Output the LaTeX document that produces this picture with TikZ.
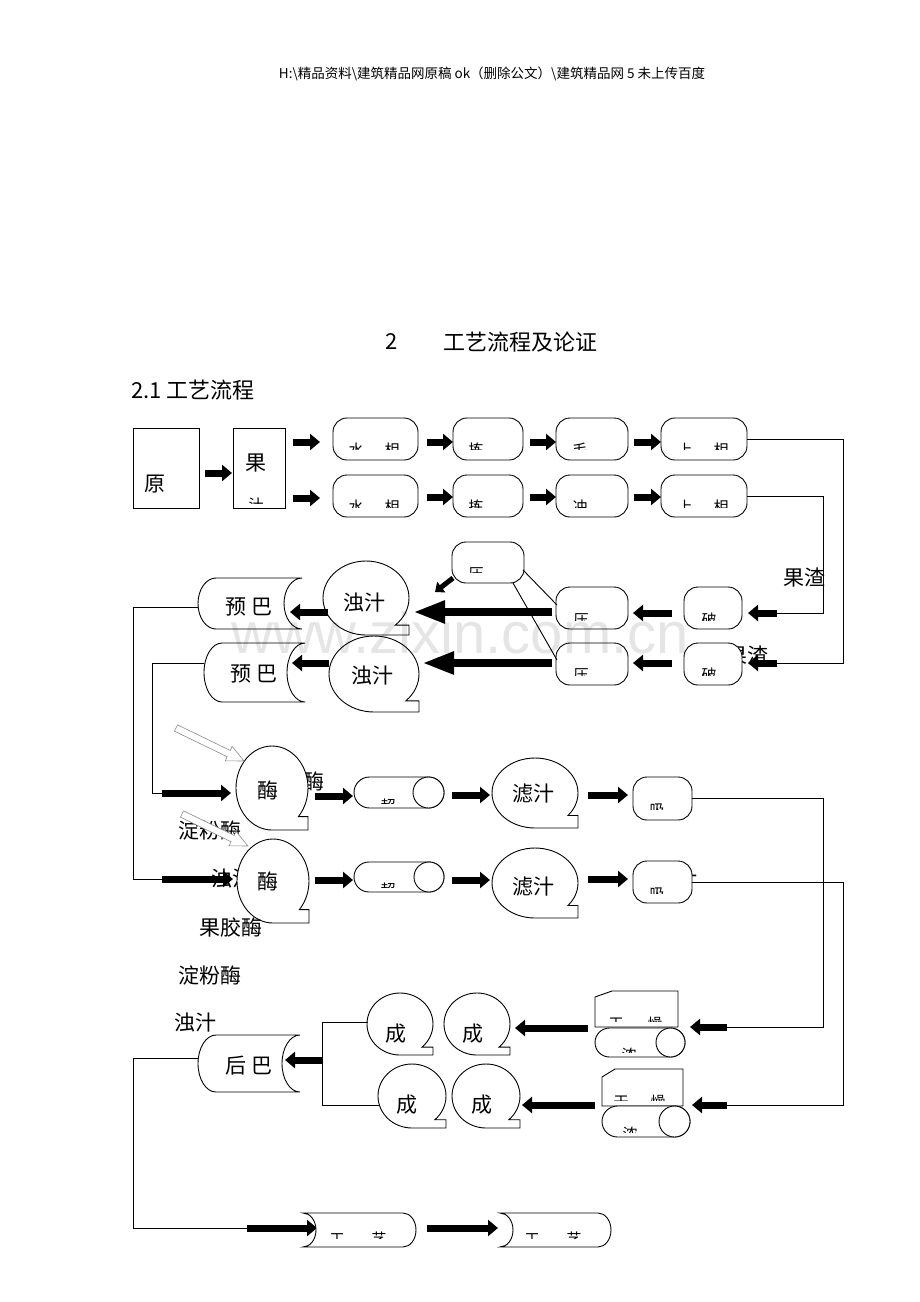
\documentclass[tikz,border=0pt]{standalone}
\usepackage{fontspec}
\newfontfamily\cjk{Noto Sans CJK SC}
\newfontfamily\wmf{Liberation Sans}
\usetikzlibrary{arrows.meta}
\newcommand{\frag}[5]{\begin{scope}\clip ({#2-16},{#3-22}) rectangle ({#2+16},#4);\node[frg] (#1) at (#2,#3) {#5};\end{scope}}
\newcommand{\bub}[6]{\draw[shp] (#2,{#3+#5}) arc[start angle=90,end angle={360+#6},x radius=#4,y radius=#5] -- ({#2+#4},{#3+#5*sin(#6)}) -- ({#2+#4},{#3+#5}) -- cycle; \coordinate (#1) at (#2,#3);}
\newcommand{\scrl}[6]{\draw[shp] (#2,#3) -- (#4,#3) arc[start angle=270,end angle=90,x radius=#6,y radius={(#5-#3)/2}] -- (#2,#5) arc[start angle=90,end angle=270,x radius=#6,y radius={(#5-#3)/2}] -- cycle; \coordinate (#1) at ({(#2+#4)/2},{(#3+#5)/2});}
\newcommand{\scrr}[6]{\draw[shp] (#2,#3) -- (#4,#3) arc[start angle=270,end angle=450,x radius=#6,y radius={(#5-#3)/2}] -- (#2,#5) arc[start angle=90,end angle=-90,x radius=#6,y radius={(#5-#3)/2}] -- cycle; \coordinate (#1) at ({(#2+#4)/2},{(#3+#5)/2});}
\newcommand{\cyl}[6]{\draw[shp,rounded corners=#6pt] (#2,#3) rectangle (#4,#5); \draw[shp] ({#4-#6},{(#3+#5)/2}) circle[radius=#6]; \coordinate (#1) at ({(#2+#4)/2},{(#3+#5)/2});}
\newcommand{\card}[7]{\draw[shp] (#2,#7) -- (#6,#3) -- (#4,#3) -- (#4,#5) -- (#2,#5) -- cycle; \coordinate (#1) at ({(#2+#4)/2},{(#3+#5)/2});}
\newcommand{\ar}[6]{\coordinate (#2s) at (#3,#4); \coordinate (#2e) at (#5,#6); \draw[#1] (#2s) -- (#2e);}
\begin{document}
\begin{tikzpicture}[x=1pt,y=-1pt,
  ln/.style={line width=0.9pt},
  shp/.style={line width=0.9pt,draw=black,fill=white},
  rb/.style={shp,rounded corners=14pt,inner sep=0pt},
  sq/.style={shp,inner sep=0pt},
  arr/.style={line width=7pt,-{Triangle[length=10pt,width=16pt]}},
  arrs/.style={line width=5pt,-{Triangle[length=8pt,width=13pt]}},
  bigarr/.style={line width=8pt,-{Triangle[length=32pt,width=21pt]}},
  hol/.style={draw=black!45,fill=white,line width=0.6pt},
  lab/.style={font=\cjk\fontsize{21pt}{21pt}\selectfont,inner sep=0pt},
  frg/.style={font=\cjk\fontsize{15pt}{15pt}\selectfont,inner sep=0pt},
]
\useasboundingbox (0,0) rectangle (920,1302);
\fill[white] (0,0) rectangle (920,1302);

% header and titles
\node[font=\cjk\fontsize{13.5pt}{14pt}\selectfont,inner sep=0pt] (hdr) at (492,74) {H:\textbackslash 精品资料\textbackslash 建筑精品网原稿 ok（删除公文）\textbackslash 建筑精品网 5 未上传百度};
\node[lab,font=\cjk\fontsize{22pt}{22pt}\selectfont] (tnum) at (392,342) {2};
\node[lab,font=\cjk\fontsize{22pt}{22pt}\selectfont] (title) at (520,342) {工艺流程及论证};
\node[lab,font=\cjk\fontsize{22pt}{22pt}\selectfont,anchor=west] (sub) at (131,390) {2.1 工艺流程};

% hidden-behind labels
\node[lab] (lzz2) at (747,655) {果渣};
\node[lab] (lgj0) at (293,782) {果胶酶};
\node[lab] (lzz) at (232,879) {浊汁};
\node[lab] (lzj) at (676,878) {浊汁};
\node[lab] (ldf1) at (210,830) {淀粉酶};

% row 1
\node[sq,minimum width=66pt,minimum height=80pt] (yuan) at (166,468) {};
\node[lab] (tyuan) at (155,484) {原};
\node[sq,minimum width=52pt,minimum height=80pt] (guozhi) at (259,468) {};
\node[lab] (tguo) at (256,463) {果};
\frag{fzhi}{256}{505}{503}{汁}
\ar{arr}{a0}{205}{473}{232}{473}

\foreach \n/\cx/\w in {1/375.5/85,2/488/70,3/592/72,4/704/86}{
  \node[rb,minimum width=\w pt,minimum height=42pt] (A\n) at (\cx,439) {};
  \node[rb,minimum width=\w pt,minimum height=42pt] (B\n) at (\cx,496) {};
}
\frag{f1}{356}{450}{449}{水}\frag{f2}{392}{450}{449}{相}\frag{f3}{476}{450}{449}{拣}
\frag{f4}{580}{450}{449}{毛}\frag{f5}{685}{450}{449}{上}\frag{f6}{721}{450}{449}{相}
\frag{f7}{356}{507}{507}{水}\frag{f8}{392}{507}{507}{相}\frag{f9}{476}{507}{507}{拣}
\frag{f10}{580}{507}{507}{冲}\frag{f11}{685}{507}{507}{上}\frag{f12}{721}{507}{507}{相}

\ar{arr}{a1}{293}{442}{320}{442}
\ar{arr}{a2}{293}{498}{320}{498}
\ar{arr}{a3}{427}{442}{453}{442}
\ar{arr}{a4}{427}{497}{453}{497}
\ar{arr}{a5}{530}{442}{556}{442}
\ar{arr}{a6}{530}{497}{556}{497}
\ar{arr}{a7}{634}{442}{661}{442}
\ar{arr}{a8}{634}{497}{661}{497}

% right return lines
\coordinate (r1) at (843,663);
\coordinate (r1e) at (777,663);
\draw[ln] (A4.east) -| (r1) -- (r1e);
\coordinate (r2) at (823,613);
\coordinate (r2e) at (777,613);
\draw[ln] (B4.east) -| (r2) -- (r2e);

% middle section
\node[lab] (lzz1) at (804,577) {果渣};
\node[rb,minimum width=72pt,minimum height=41pt] (Ptop) at (488,562.5) {};
\frag{fp0}{476}{574}{572}{压}
\node[rb,minimum width=72pt,minimum height=42pt] (P1) at (592,608) {};
\node[rb,minimum width=58pt,minimum height=42pt] (Q1) at (713,608) {};
\node[rb,minimum width=72pt,minimum height=42pt] (P2) at (592,664) {};
\node[rb,minimum width=58pt,minimum height=42pt] (Q2) at (713,664) {};
\frag{fp1}{581}{620}{620}{压}\frag{fq1}{709}{620}{620}{破}
\frag{fp2}{581}{675}{675}{压}\frag{fq2}{709}{675}{675}{破}
\coordinate (pl1) at (523,570); \coordinate (pl1e) at (557,605);
\coordinate (pl2) at (513,583); \coordinate (pl2e) at (557,660);
\draw[ln] (pl1) -- (pl1e);
\draw[ln] (pl2) -- (pl2e);
\ar{arrs}{ad}{453}{578}{435}{592}

\ar{arr}{m1}{777}{613}{748}{613}
\ar{arr}{m2}{777}{663}{748}{663}
\ar{arr}{m3}{672}{613}{633}{613}
\ar{arr}{m4}{672}{663}{633}{663}

\scrl{YB1}{216}{578}{302}{629}{18}
\node[lab] (tyb1) at (249,607) {预 巴};
\scrl{YB2}{222}{643}{305}{702}{18}
\node[lab] (tyb2) at (254,674) {预 巴};

\bub{Z1}{366}{598}{43}{37}{47}
\node[lab] (tz1) at (364,603) {浊汁};
\bub{Z2}{374}{674}{45}{38}{45}
\node[lab] (tz2) at (372,676) {浊汁};

\ar{bigarr}{b1}{552}{612}{413}{612}
\ar{bigarr}{b2}{552}{663}{422}{663}
\ar{arr}{c1}{328}{612}{290}{612}
\ar{arr}{c2}{329}{663}{292}{663}

% left loop lines
\coordinate (l1a) at (198,607); \coordinate (l1b) at (133,879); \coordinate (l1c) at (162,879);
\draw[ln] (l1a) -| (l1b) -- (l1c);
\coordinate (l2a) at (204,663); \coordinate (l2b) at (152,793); \coordinate (l2c) at (162,793);
\draw[ln] (l2a) -| (l2b) -- (l2c);

% enzyme section
\bub{E1}{272}{788}{36}{42}{43}
\node[lab] (te1) at (268,790) {酶};
\bub{E2}{273}{881}{36}{42}{43}
\node[lab] (te2) at (268,881) {酶};
\ar{arr}{e1}{162}{793}{231}{793}
\ar{arr}{e2}{162}{879}{233}{879}

\begin{scope}[shift={(176,728)},rotate=-25.9]
\draw[hol] (0,3.5) -- (58.6,3.5) -- (58.6,8) -- (75.6,0) -- (58.6,-8) -- (58.6,-3.5) -- (0,-3.5) -- cycle;
\end{scope}
\begin{scope}[shift={(182,814)},rotate=-25.9]
\draw[hol] (0,3.5) -- (56.3,3.5) -- (56.3,8) -- (73.3,0) -- (56.3,-8) -- (56.3,-3.5) -- (0,-3.5) -- cycle;
\end{scope}

\node[lab] (lgj1) at (231,928) {果胶酶};
\node[lab] (ldf2) at (210,975) {淀粉酶};
\node[lab] (lzz3) at (195,1023) {浊汁};

\cyl{C1}{354}{777}{444}{808}{15.5}
\cyl{C2}{354}{862}{444}{892}{15}
\frag{fc1}{388}{806}{803}{超}\frag{fc2}{388}{890}{887}{超}
\ar{arr}{g1}{315}{796}{353}{796}
\ar{arr}{g2}{315}{880}{353}{880}
\ar{arr}{g3}{452}{795}{490}{795}
\ar{arr}{g4}{452}{880}{490}{880}

\bub{L1}{535}{793}{43}{35}{40}
\node[lab] (tl1) at (533,794) {滤汁};
\bub{L2}{535}{883}{43}{35}{40}
\node[lab] (tl2) at (533,887) {滤汁};
\ar{arr}{g5}{588}{795}{628}{795}
\ar{arr}{g6}{588}{879}{628}{879}

\node[rb,minimum width=59pt,minimum height=43pt] (X1) at (662.5,798.5) {};
\node[rb,minimum width=59pt,minimum height=42pt] (X2) at (662.5,882) {};
\frag{fx1}{657}{810}{809}{吸}\frag{fx2}{657}{894}{893}{吸}

\coordinate (k1) at (823,1027); \coordinate (k1e) at (727,1027);
\draw[ln] (X1.east) -| (k1) -- (k1e);
\coordinate (k2) at (843,1105); \coordinate (k2e) at (727,1105);
\draw[ln] (X2.east) -| (k2) -- (k2e);

% lower section
\card{D1}{595}{991}{678}{1027}{612}{997}
\cyl{N1}{595}{1028}{685}{1057}{14.5}
\card{D2}{602}{1069}{683}{1106}{615}{1077}
\cyl{N2}{602}{1106}{690}{1137}{15.5}
\frag{fd1}{616}{1024}{1021}{干}\frag{fd2}{655}{1024}{1021}{燥}\frag{fn1}{629}{1055}{1052}{浓}
\frag{fd3}{621}{1102}{1100}{干}\frag{fd4}{658}{1102}{1100}{燥}\frag{fn2}{630}{1134}{1132}{浓}
\ar{arr}{h1}{727}{1027}{690}{1027}
\ar{arr}{h2}{727}{1105}{692}{1105}
\ar{arr}{h3}{588}{1028}{515}{1028}
\ar{arr}{h4}{595}{1105}{522}{1105}

\bub{S1}{400}{1024}{33}{31}{48}
\node[lab] (ts1) at (396,1034) {成};
\bub{S2}{477}{1024}{33}{31}{48}
\node[lab] (ts2) at (473,1034) {成};
\bub{S3}{412}{1096}{34}{32}{48}
\node[lab] (ts3) at (407,1105) {成};
\bub{S4}{486}{1096}{34}{32}{48}
\node[lab] (ts4) at (482,1105) {成};

\coordinate (j1) at (368,1022); \coordinate (j2) at (322,1105); \coordinate (j3) at (379,1105);
\draw[ln] (j1) -| (j2) -- (j3);
\ar{arr}{h5}{322}{1060}{285}{1060}

\scrl{HB}{216}{1035}{300}{1092}{18}
\node[lab] (thb) at (249,1066) {后 巴};
\coordinate (q1) at (198,1058); \coordinate (q2) at (133,1228); \coordinate (q3) at (247,1228);
\draw[ln] (q1) -| (q2) -- (q3);
\ar{arr}{h6}{247}{1228}{317}{1228}

\scrr{T1}{303}{1213}{403}{1247}{13}
\scrr{T2}{500}{1213}{598}{1247}{13}
\frag{ft1}{337}{1239}{1238}{工}\frag{ft2}{379}{1239}{1238}{艺}
\frag{ft3}{532}{1239}{1238}{工}\frag{ft4}{574}{1239}{1238}{艺}
\ar{arr}{h7}{427}{1228}{498}{1228}

% watermark
\node[font=\wmf\fontsize{58pt}{58pt}\selectfont,text=black,text opacity=0.1,anchor=base,inner sep=0pt] (wm) at (460,653) {www.zixin.com.cn};
\end{tikzpicture}
\end{document}
